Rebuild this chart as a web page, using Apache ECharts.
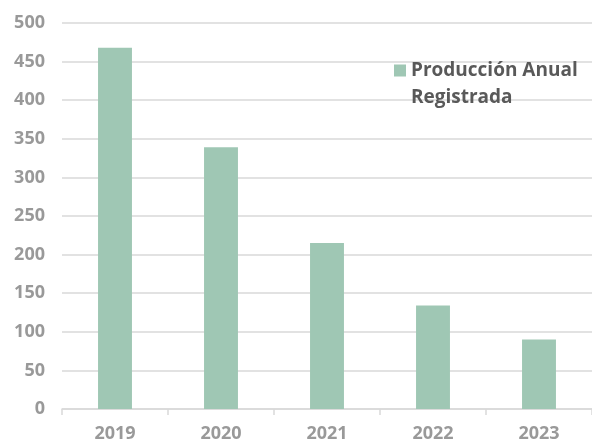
<!DOCTYPE html>
<html>
<head>
<meta charset="utf-8">
<script src="https://cdn.jsdelivr.net/npm/echarts@6/dist/echarts.min.js"></script>
<style>html,body{margin:0;padding:0;background:#fff}#c{width:592px;height:444px}</style>
</head>
<body>
<div id="c"></div>
<script>
var categories = ['2019', '2020', '2021', '2022', '2023'];
var seriesName = 'Producción Anual\nRegistrada';
var values = [468, 339, 215, 134, 90];
var yTicks = { min: 0, max: 500, interval: 50 };

var FONT = "'Open Sans', sans-serif";
var chart = echarts.init(document.getElementById('c'), null, { renderer: 'canvas' });
chart.setOption({
  animation: false,
  backgroundColor: '#ffffff',
  textStyle: { fontFamily: FONT },
  grid: { left: 62, top: 23, width: 533, height: 386, containLabel: false },
  legend: {
    show: true,
    left: 394,
    top: 57,
    padding: 0,
    icon: 'path://M0,0L12,0L12,12L0,12Z M0,39L0.02,39L0,39.02Z',
    itemWidth: 12,
    itemHeight: 39,
    itemGap: 6,
    textStyle: { fontFamily: FONT, fontWeight: 'bold', fontSize: 19, color: '#595959', lineHeight: 27 },
    data: [seriesName]
  },
  xAxis: {
    type: 'category',
    data: categories,
    axisLine: { show: true, lineStyle: { color: '#d9d9d9', width: 1.5 } },
    axisTick: { show: true, length: 6, lineStyle: { color: '#d9d9d9', width: 1.5 } },
    axisLabel: { color: '#999999', fontWeight: 'bold', fontSize: 18, margin: 16, fontFamily: FONT }
  },
  yAxis: {
    type: 'value',
    min: yTicks.min,
    max: yTicks.max,
    interval: yTicks.interval,
    axisLine: { show: false },
    axisTick: { show: false },
    splitLine: { lineStyle: { color: '#d9d9d9', width: 1.5 } },
    axisLabel: { color: '#999999', fontWeight: 'bold', fontSize: 18, margin: 17, fontFamily: FONT }
  },
  series: [{
    name: seriesName,
    type: 'bar',
    data: values,
    barWidth: '32%',
    itemStyle: { color: '#9fc7b4' }
  }]
});
</script>
</body>
</html>
